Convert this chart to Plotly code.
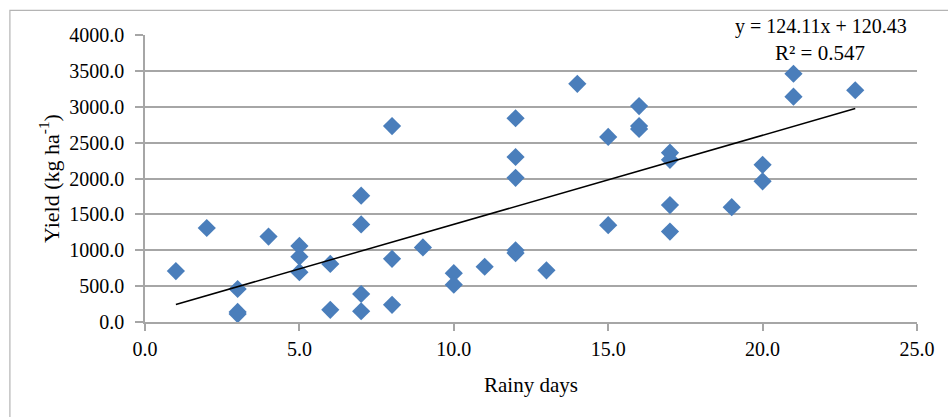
import plotly.graph_objects as go

rainy_days = [1, 2, 3, 3, 3, 4, 5, 5, 5, 6, 6, 7, 7, 7, 7, 8, 8, 8, 9, 10, 10, 11,
              12, 12, 12, 12, 12, 13, 14, 15, 15, 16, 16, 16, 17, 17, 17, 17,
              19, 20, 20, 21, 21, 23]
yield_kg = [710, 1310, 460, 140, 110, 1190, 1060, 910, 695, 810, 170, 1760, 1360, 390, 150,
            2730, 880, 240, 1040, 680, 520, 770,
            2840, 2300, 2010, 1000, 960, 720, 3320, 2580, 1350, 3010, 2730, 2690,
            2360, 2260, 1630, 1260,
            1600, 2190, 1960, 3460, 3140, 3230]

slope, intercept, r2 = 124.11, 120.43, 0.547
trend_x = [min(rainy_days), max(rainy_days)]
trend_y = [slope * v + intercept for v in trend_x]

x_ticks = [0, 5, 10, 15, 20, 25]
y_ticks = [0, 500, 1000, 1500, 2000, 2500, 3000, 3500, 4000]

FONT = "Liberation Serif"
GRID = "#a6a6a6"
TICKFONT = dict(family=FONT, size=20, color="black")

fig = go.Figure()
fig.add_trace(go.Scatter(
    x=rainy_days, y=yield_kg, mode="markers",
    marker=dict(symbol="diamond", size=14, color="#4a7ebb", line=dict(width=0)),
    showlegend=False, cliponaxis=False,
))
fig.add_trace(go.Scatter(
    x=trend_x, y=trend_y, mode="lines",
    line=dict(color="black", width=1.5), showlegend=False,
))

fig.add_annotation(xref="paper", yref="paper", x=0.875, y=1.028, xanchor="center",
                   text=f"y = {slope:.2f}x + {intercept:.2f}", showarrow=False,
                   font=dict(family=FONT, size=20, color="black"), yanchor="middle")
fig.add_annotation(xref="paper", yref="paper", x=0.874, y=0.937, xanchor="center",
                   text=f"R² = {r2:.3f}", showarrow=False,
                   font=dict(family=FONT, size=21, color="black"), yanchor="middle")

# outer chart border
fig.add_shape(type="rect", xref="paper", yref="paper",
              x0=-0.175, x1=1.2, y0=-0.5, y1=1.086,
              line=dict(color="#b4b4b4", width=1.2), layer="below")

fig.update_layout(
    width=948, height=417,
    margin=dict(l=145, r=31, t=35, b=95),
    paper_bgcolor="white", plot_bgcolor="white",
    font=dict(family=FONT, size=20, color="black"),
    xaxis=dict(range=[0, 25], tickvals=x_ticks, tickformat=".1f",
               showgrid=False, zeroline=False, showline=True, linecolor=GRID, linewidth=1.5,
               ticks="outside", ticklen=7, tickcolor=GRID, tickwidth=1.5,
               ticklabelstandoff=1,
               title=dict(text="Rainy days", standoff=19,
                          font=dict(family=FONT, size=21, color="black")),
               tickfont=TICKFONT),
    yaxis=dict(range=[0, 4000], tickvals=y_ticks, tickformat=".1f",
               showgrid=True, gridcolor=GRID, gridwidth=1.5, zeroline=False,
               showline=True, linecolor=GRID, linewidth=1.5,
               ticks="outside", ticklen=8, tickcolor=GRID, tickwidth=1.5,
               ticklabelstandoff=7,
               title=dict(text="Yield (kg ha<sup>-1</sup>)", standoff=4,
                          font=dict(family=FONT, size=22, color="black")),
               tickfont=TICKFONT),
)

fig.write_html("out.html")
